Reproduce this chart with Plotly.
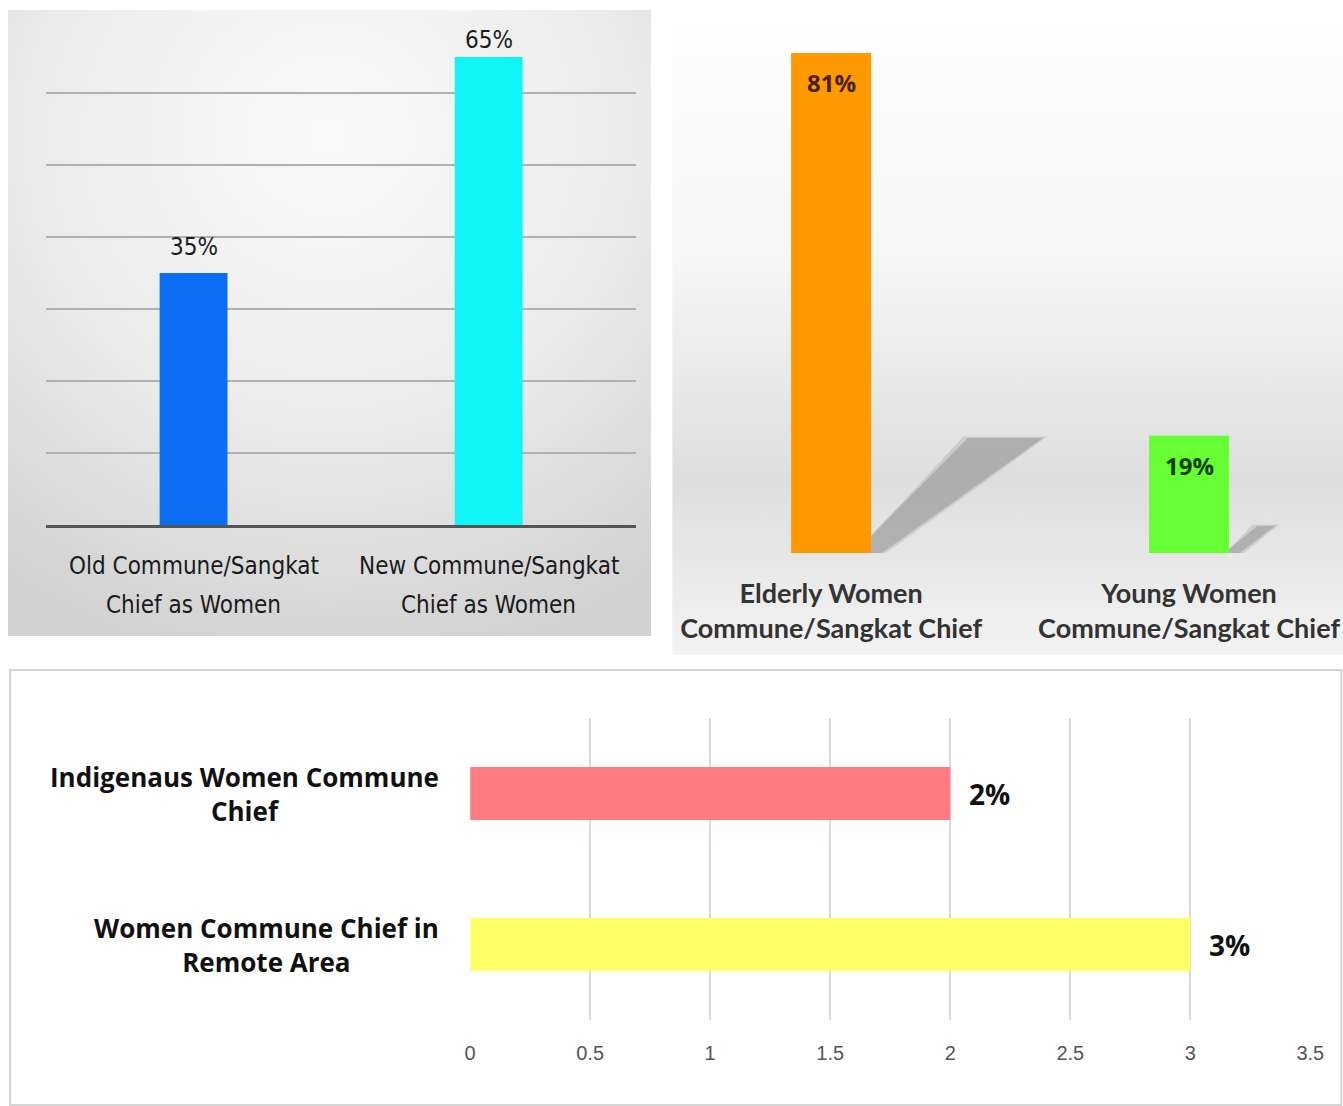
import base64
import plotly.graph_objects as go

FW, FH = 1357, 1106
SX, OX = 0.985, 6.0   # observed horizontal mapping of the rendered page

# ---------------- data ----------------
p1_categories = ["Old Commune/Sangkat<br>Chief as Women", "New Commune/Sangkat<br>Chief as Women"]
p1_values = [35, 65]
p1_colors = ["#0b6cf4", "#0ff4f4"]

p2_categories = ["Elderly Women<br>Commune/Sangkat Chief", "Young Women<br>Commune/Sangkat Chief"]
p2_values = [81, 19]
p2_colors = ["#ff9900", "#66ff33"]
p2_label_colors = ["#4a1e00", "#0f3d00"]

p3_categories = ["Women Commune Chief in<br>Remote Area", "Indigenaus Women Commune<br>Chief"]
p3_values = [3, 2]
p3_colors = ["#ffff66", "#ff7c80"]
p3_ticks = [0, 0.5, 1, 1.5, 2, 2.5, 3, 3.5]


def px_x(v):
    return min(1.0, ((v - OX) / SX) / FW)


def px_y(v):
    return 1 - v / FH


def svg_uri(svg):
    return "data:image/svg+xml;base64," + base64.b64encode(svg.encode()).decode()


bg1 = svg_uri(
    '<svg xmlns="http://www.w3.org/2000/svg" width="640" height="625" preserveAspectRatio="none">'
    '<defs><radialGradient id="g" cx="0.5" cy="0.2" r="0.85">'
    '<stop offset="0" stop-color="#fafafa"/><stop offset="0.55" stop-color="#ebebeb"/>'
    '<stop offset="1" stop-color="#d2d2d2"/></radialGradient></defs>'
    '<rect width="640" height="625" fill="url(#g)"/></svg>'
)
bg2 = svg_uri(
    '<svg xmlns="http://www.w3.org/2000/svg" width="671" height="625" preserveAspectRatio="none">'
    '<defs><linearGradient id="g" x1="0" y1="0" x2="0" y2="1">'
    '<stop offset="0" stop-color="#fdfdfd"/><stop offset="0.35" stop-color="#f7f7f7"/>'
    '<stop offset="0.72" stop-color="#dedede"/><stop offset="1" stop-color="#f3f3f3"/>'
    '</linearGradient></defs>'
    '<rect width="671" height="625" fill="url(#g)"/></svg>'
)

P1_FONT = "DejaVu Sans Condensed, Liberation Sans Narrow, Liberation Sans, sans-serif"

fig = go.Figure()

# Panel 1
fig.add_trace(go.Bar(
    x=[0, 1], y=p1_values, width=0.23, marker=dict(color=p1_colors, line=dict(width=0)),
    xaxis="x", yaxis="y", showlegend=False, hoverinfo="y",
))

# Panel 2
fig.add_trace(go.Bar(
    x=[0, 1], y=p2_values, width=0.2235, marker=dict(color=p2_colors, line=dict(width=0)),
    xaxis="x2", yaxis="y2", showlegend=False, hoverinfo="y",
))

# Panel 3
fig.add_trace(go.Bar(
    y=[0, 1], x=p3_values, width=0.35, orientation="h",
    marker=dict(color=p3_colors, line=dict(width=0)),
    xaxis="x3", yaxis="y3", showlegend=False, hoverinfo="x",
))

shapes = []
# faint top line of panel 1 grid
shapes.append(dict(type="line", xref="x domain", yref="y", x0=0, x1=1, y0=70.4, y1=70.4,
                   line=dict(color="#d6d6d6", width=2), layer="below"))
# panel 2 bar shadows (decoration, placed relative to the bars in data coords); two layers to soften
for i, v in enumerate(p2_values):
    xr = i + 0.2235 / 2
    h = 0.23 * v
    k = v / 81
    for grow, alpha in ((0.012, 0.25), (0.0, 0.45)):
        shapes.append(dict(
            type="path", xref="x2", yref="y2", layer="below",
            path=(f"M {xr},0 L {xr},{h*0.15} L {xr + 0.25*k + 0.02 - grow},{h + grow*20} "
                  f"L {xr + 0.46*k + 0.02 + grow},{h + grow*20} L {xr + 0.03 + grow},0 Z"),
            fillcolor=f"rgba(140,140,140,{alpha})", line=dict(width=0),
        ))
# panel 3 frame
shapes.append(dict(type="rect", xref="paper", yref="paper",
                   x0=px_x(10), x1=px_x(1341), y0=px_y(1105), y1=px_y(670),
                   line=dict(color="#d4d4d4", width=2), fillcolor="rgba(0,0,0,0)", layer="below"))

annotations = []
p1_label_shift = [10, 1]
# panel 1 value labels and category labels (one annotation per line for taller line spacing)
for i, (cat, v) in enumerate(zip(p1_categories, p1_values)):
    annotations.append(dict(
        xref="x", yref="y", x=i, y=v, text=f"{v}%", yanchor="bottom", yshift=p1_label_shift[i],
        showarrow=False, font=dict(family=P1_FONT, size=24, color="#1c1c1c"),
    ))
    for j, line in enumerate(cat.split("<br>")):
        annotations.append(dict(
            xref="x", yref="paper", x=i, y=px_y(566 + 39 * j), text=line,
            yanchor="middle", showarrow=False,
            font=dict(family=P1_FONT, size=24, color="#1a1a1a"),
        ))
# panel 2 value labels inside bar tops
for i, v in enumerate(p2_values):
    annotations.append(dict(
        xref="x2", yref="y2", x=i, y=v, text=f"{v}%", yanchor="top", yshift=-11,
        showarrow=False,
        font=dict(family="Open Sans, sans-serif", size=24, color=p2_label_colors[i], weight="bold"),
    ))
# panel 3 labels
for i, (cat, v) in enumerate(zip(p3_categories, p3_values)):
    annotations.append(dict(
        xref="paper", yref="y3", x=px_x(441), y=i, text=cat,
        xanchor="right", align="center", showarrow=False,
        font=dict(family="Open Sans, sans-serif", size=26, color="#111111", weight="bold"),
    ))
    annotations.append(dict(
        xref="x3", yref="y3", x=v, y=i, text=f"{v}%", xanchor="left", xshift=17,
        showarrow=False,
        font=dict(family="Open Sans, sans-serif", size=28, color="#111111", weight="bold"),
    ))

fig.update_layout(
    width=FW, height=FH, autosize=False,
    margin=dict(l=0, r=0, t=0, b=0),
    paper_bgcolor="white", plot_bgcolor="rgba(0,0,0,0)",
    shapes=shapes, annotations=annotations,
    images=[
        dict(source=bg1, xref="paper", yref="paper", x=px_x(8), y=px_y(10),
             sizex=px_x(651) - px_x(8), sizey=626 / FH, sizing="stretch", layer="below",
             xanchor="left", yanchor="top"),
        dict(source=bg2, xref="paper", yref="paper", x=px_x(672), y=px_y(30),
             sizex=1.02 - px_x(672), sizey=625 / FH, sizing="stretch", layer="below",
             xanchor="left", yanchor="top"),
    ],
    xaxis=dict(domain=[px_x(46), px_x(636)], anchor="y", range=[-0.5, 1.5],
               showgrid=False, zeroline=False, showticklabels=False,
               showline=True, linecolor="#555555", linewidth=3, ticks=""),
    yaxis=dict(domain=[px_y(525), px_y(21)], anchor="x", range=[0, 70], dtick=10,
               showgrid=True, gridcolor="#b0b0b0", gridwidth=2, showticklabels=False,
               zeroline=False, showline=False),
    xaxis2=dict(domain=[px_x(672), 1], anchor="y2", range=[-0.444, 1.430],
                tickvals=[0, 1], ticktext=p2_categories, showgrid=False, zeroline=False,
                showline=False, ticks="", ticklabelstandoff=22,
                tickfont=dict(family="Lato, sans-serif", size=27, color="#333333", weight="bold")),
    yaxis2=dict(domain=[px_y(553), px_y(32)], anchor="x2", range=[0, 84.4],
                showgrid=False, showticklabels=False, zeroline=False, showline=False),
    xaxis3=dict(domain=[px_x(470), px_x(1310)], anchor="y3", range=[0, 3.5],
                tickvals=p3_ticks, ticktext=[f"{t:g}" for t in p3_ticks],
                showgrid=True, gridcolor="#d9d9d9", gridwidth=1.5, zeroline=False,
                showline=False, ticks="", ticklabelstandoff=19,
                tickfont=dict(family="Liberation Sans Narrow, Arial Narrow, sans-serif", size=20, color="#555555")),
    yaxis3=dict(domain=[px_y(1020), px_y(718)], anchor="x3", range=[-0.5, 1.5],
                showgrid=False, showticklabels=False, zeroline=False, showline=False, ticks=""),
)

fig.write_html("out.html")
